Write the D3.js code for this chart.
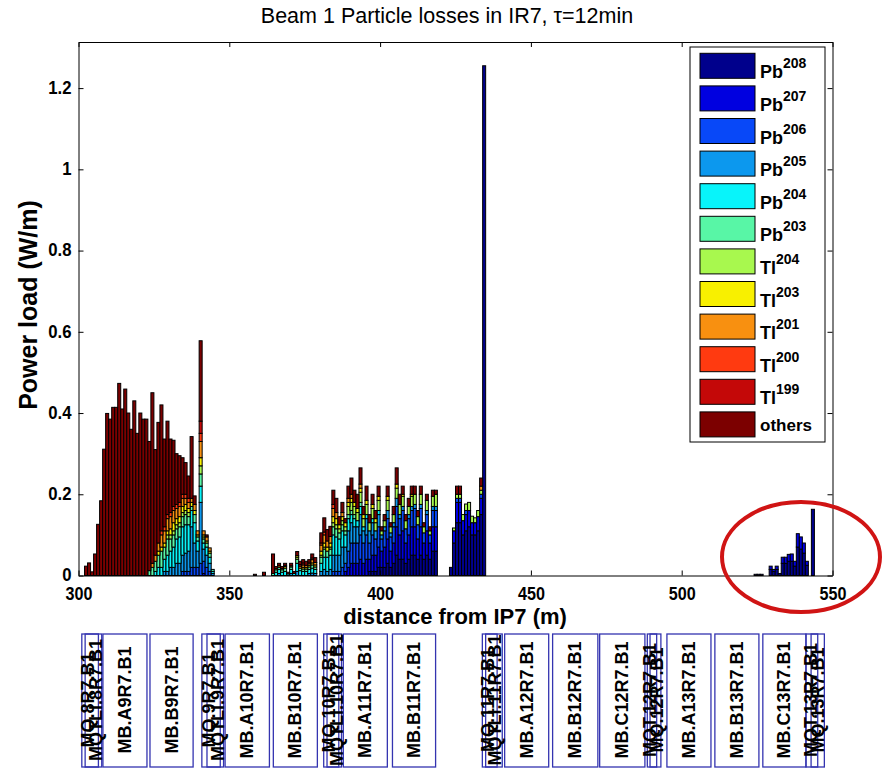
<!DOCTYPE html>
<html>
<head>
<meta charset="utf-8">
<script src="https://cdn.jsdelivr.net/npm/d3@7/dist/d3.min.js"></script>
<style>
  body { margin: 0; background: #fff; }
  svg text { font-family: "Liberation Sans", Arial, Helvetica, sans-serif; }
</style>
</head>
<body>
<svg id="chart" width="884" height="771"></svg>
<script>
// ---- species (stack order, bottom to top) ----
const species = ["Pb208","Pb207","Pb206","Pb205","Pb204","Pb203","Tl204","Tl203","Tl201","Tl200","Tl199","others"];
const speciesBase = ["Pb","Pb","Pb","Pb","Pb","Pb","Tl","Tl","Tl","Tl","Tl","others"];
const speciesMass = ["208","207","206","205","204","203","204","203","201","200","199",""];
const speciesColor = ["#00008c","#0000e0","#0848f8","#0c98ee","#08f4fa","#58f6a6","#a8f84e","#f8f000","#f89010","#ff3a10","#c40808","#7c0000"];

// ---- power load per 1 m bin: [bin start (m), W/m] ----
const pb208 = [[396,.01],[397,.01],[398,.01],[399,.02],[400,.02],[401,.02],[402,.03],[403,.02],[404,.03],[405,.05],[406,.04],[407,.04],[408,.03],[409,.04],[410,.05],[411,.05],[412,.04],[413,.05],[414,.04],[415,.05],[416,.04],[417,.06],[418,.06],[423,.02],[424,.08],[425,.13],[426,.13],[427,.1],[428,.11],[429,.12],[430,.1],[431,.1],[432,.11],[433,.15],[434,1.255],[524,.003],[525,.003],[526,.003],[529,.015],[530,.01],[531,.015],[532,.005],[533,.03],[534,.03],[535,.035],[536,.035],[537,.023],[538,.07],[539,.065],[540,.055],[541,.025],[543,.163]];
const pb207 = [[341,.005],[388,.01],[389,.02],[390,.03],[391,.03],[392,.03],[393,.04],[394,.03],[395,.04],[396,.03],[397,.04],[398,.04],[399,.05],[400,.04],[401,.05],[402,.06],[403,.04],[404,.05],[405,.07],[406,.06],[407,.07],[408,.05],[409,.06],[410,.07],[411,.07],[412,.05],[413,.07],[414,.04],[415,.06],[416,.04],[417,.06],[418,.06],[424,.03],[425,.05],[426,.05],[427,.035],[428,.04],[429,.04],[430,.03],[431,.03],[432,.035],[433,.04],[529,.008],[530,.005],[531,.008],[533,.015],[534,.015],[535,.017],[536,.018],[537,.012],[538,.033],[539,.03],[540,.025],[541,.01]];
const pb206 = [[334,.01],[335,.01],[336,.01],[337,.02],[338,.02],[339,.02],[340,.03],[341,.03],[342,.02],[343,.01],[384,.01],[385,.01],[386,.01],[387,.02],[388,.02],[389,.04],[390,.05],[391,.05],[392,.05],[393,.06],[394,.05],[395,.06],[396,.04],[397,.05],[398,.04],[399,.05],[400,.03],[401,.04],[402,.05],[403,.035],[404,.04],[405,.05],[406,.04],[407,.05],[408,.035],[409,.04],[410,.04],[411,.045],[412,.035],[413,.045],[414,.025],[415,.04],[416,.02],[417,.04],[418,.04],[425,.01],[426,.01],[428,.01],[433,.01]];
const pb205 = [[328,.01],[329,.01],[330,.02],[331,.02],[332,.03],[333,.03],[334,.04],[335,.045],[336,.05],[337,.1],[338,.06],[339,.04],[340,.15],[341,.03],[342,.03],[343,.02],[344,.005],[366,.005],[370,.005],[372,.01],[376,.005],[377,.006],[378,.005],[380,.01],[381,.015],[382,.01],[383,.015],[384,.04],[385,.04],[386,.04],[387,.05],[388,.04],[389,.05],[390,.05],[391,.04],[392,.04],[393,.05],[394,.03],[395,.04],[396,.03],[397,.03],[398,.02],[399,.03],[400,.01],[401,.01],[402,.02],[403,.01],[404,.01],[405,.02],[406,.01],[407,.01],[409,.01],[410,.01],[411,.01],[413,.01],[415,.01],[417,.01],[418,.01]];
const pb204 = [[325,.01],[326,.02],[327,.02],[328,.03],[329,.04],[330,.04],[331,.05],[332,.06],[333,.065],[334,.07],[335,.07],[336,.065],[337,.04],[338,.05],[339,.025],[340,.04],[341,.015],[342,.02],[343,.015],[344,.005],[365,.008],[366,.01],[367,.008],[368,.01],[369,.004],[370,.01],[371,.005],[372,.02],[373,.012],[374,.01],[375,.01],[376,.01],[377,.012],[378,.01],[380,.02],[381,.03],[382,.035],[383,.035],[384,.05],[385,.045],[386,.04],[387,.04],[388,.03],[389,.03],[390,.02],[391,.02],[392,.015],[393,.02],[394,.01],[395,.01],[397,.01],[399,.01]];
const pb203 = [[323,.012],[324,.02],[325,.025],[326,.03],[327,.04],[328,.03],[329,.04],[330,.03],[331,.03],[332,.025],[333,.025],[334,.025],[335,.025],[336,.02],[337,.01],[338,.02],[339,.01],[340,.03],[341,.01],[342,.01],[343,.01],[344,.005],[364,.005],[365,.006],[366,.005],[367,.006],[368,.008],[370,.006],[372,.01],[373,.006],[374,.006],[375,.006],[376,.006],[377,.008],[378,.006],[380,.015],[381,.02],[382,.015],[383,.015],[384,.02],[385,.02],[386,.015],[387,.015],[388,.01],[389,.01],[390,.01],[391,.01],[393,.01]];
const tl204 = [[329,.01],[330,.01],[331,.01],[332,.01],[333,.01],[334,.01],[335,.01],[336,.01],[340,.02],[341,.005],[367,.003],[372,.005],[380,.005],[381,.005],[383,.005],[384,.01],[385,.01],[386,.01],[387,.01],[388,.01],[389,.02],[390,.02],[391,.02],[392,.02],[393,.025],[394,.02],[395,.025],[396,.02],[397,.025],[398,.02],[399,.025],[400,.01],[401,.015],[402,.025],[403,.015],[404,.02],[405,.025],[406,.025],[407,.025],[408,.02],[409,.02],[410,.025],[411,.025],[412,.02],[413,.025],[414,.015],[415,.025],[416,.01],[417,.025],[418,.03],[424,.007],[425,.01],[426,.01],[427,.015],[428,.016],[429,.02],[430,.016],[431,.012],[432,.015],[433,.01]];
const tl203 = [[326,.01],[327,.01],[328,.01],[329,.01],[330,.015],[331,.02],[332,.015],[333,.015],[334,.015],[335,.015],[336,.01],[337,.01],[338,.01],[339,.005],[340,.02],[341,.005],[342,.005],[343,.005],[365,.003],[368,.004],[370,.003],[372,.004],[374,.004],[375,.004],[376,.004],[377,.005],[378,.005],[380,.01],[381,.01],[382,.01],[383,.01],[384,.015],[385,.015],[386,.01],[387,.01],[388,.01],[389,.01],[390,.01],[391,.01],[392,.01],[393,.01],[394,.01],[395,.01],[397,.01],[398,.01],[399,.01],[402,.01],[405,.01],[407,.005],[410,.005]];
const tl201 = [[324,.01],[325,.015],[326,.02],[327,.03],[328,.03],[329,.03],[330,.03],[331,.03],[332,.025],[333,.025],[334,.02],[335,.015],[336,.015],[337,.01],[338,.015],[339,.01],[340,.04],[341,.01],[342,.01],[343,.008],[366,.004],[368,.003],[373,.005],[374,.006],[375,.005],[376,.004],[377,.008],[378,.006],[380,.015],[381,.02],[382,.015],[383,.016],[384,.02],[385,.015],[387,.01],[389,.01],[390,.01],[393,.01],[433,.01]];
const tl200 = [[327,.01],[328,.01],[329,.01],[330,.01],[331,.01],[332,.01],[333,.01],[334,.01],[335,.01],[336,.01],[340,.02],[377,.004],[380,.005],[381,.007],[384,.01]];
const tl199 = [[340,.03],[373,.004],[374,.005],[376,.004]];
const others = [[302,.023],[303,.031],[304,.009],[305,.053],[306,.126],[307,.184],[308,.311],[309,.399],[310,.385],[311,.414],[312,.414],[313,.473],[314,.41],[315,.459],[316,.40],[317,.36],[318,.43],[319,.35],[320,.40],[321,.385],[322,.385],[323,.318],[324,.42],[325,.26],[326,.297],[327,.31],[328,.216],[329,.23],[330,.181],[331,.163],[332,.125],[333,.115],[334,.09],[335,.078],[336,.055],[337,.152],[338,.021],[340,.198],[342,.005],[358,.003],[361,.008],[364,.048],[365,.005],[366,.006],[367,.005],[368,.005],[369,.004],[370,.006],[371,.005],[372,.01],[373,.008],[374,.008],[375,.01],[376,.006],[377,.01],[378,.012],[380,.025],[381,.035],[382,.028],[383,.025],[384,.035],[385,.035],[386,.02],[387,.025],[388,.01],[389,.03],[390,.04],[391,.03],[392,.035],[393,.04],[394,.02],[395,.035],[396,.02],[397,.025],[398,.02],[399,.025],[400,.01],[401,.015],[402,.025],[403,.01],[404,.02],[405,.04],[406,.025],[407,.02],[408,.015],[409,.02],[410,.02],[411,.02],[412,.015],[413,.02],[414,.01],[415,.015],[416,.01],[417,.015],[418,.01],[425,.02],[426,.02],[433,.02]];
const speciesSeries = [pb208, pb207, pb206, pb205, pb204, pb203, tl204, tl203, tl201, tl200, tl199, others];
const binWidth = 1; // m

// ---- axes ----
const xTicks = [300, 350, 400, 450, 500, 550];
const yTicks = [0, 0.2, 0.4, 0.6, 0.8, 1, 1.2];
const xDomain = [300, 550];
const yDomain = [0, 1.3135];

// ---- beam-line elements below the plot: name, start (m), end (m) ----
const elementNames = ["MQ.8R7.B1","MQTLI.8R7.B1","MB.A9R7.B1","MB.B9R7.B1","MQ.9R7.B1","MQTLI.9R7.B1","MB.A10R7.B1","MB.B10R7.B1","MQ.10R7.B1","MQTLI.10R7.B1","MB.A11R7.B1","MB.B11R7.B1","MQ.11R7.B1","MQTLI.11R7.B1","MB.A12R7.B1","MB.B12R7.B1","MB.C12R7.B1","MQT.12R7.B1","MQ.12R7.B1","MB.A13R7.B1","MB.B13R7.B1","MB.C13R7.B1","MQT.13R7.B1","MQ.13R7.B1"];
const elementStart = [301.1,302.2,308.1,323.7,340.9,342.6,348.6,364.6,381.3,382.4,387.8,404.1,433.9,435.0,441.3,457.2,472.8,488.6,489.5,495.1,511.0,526.9,541.2,542.9];
const elementEnd   = [307.7,306.6,322.7,338.0,348.1,347.0,363.3,379.2,387.2,386.3,402.4,418.4,440.5,438.8,455.9,472.2,487.8,493.1,491.7,509.7,525.6,541.2,547.3,545.1];
const elementPair  = [0,1,-1,-1,0,1,-1,-1,0,1,-1,-1,0,1,-1,-1,-1,0,1,-1,-1,-1,0,1];

const titleText = "Beam 1 Particle losses in IR7, \u03C4=12min";
const xLabel = "distance from IP7 (m)";
const yLabel = "Power load (W/m)";

// ---------------------------------------------------------------
const svg = d3.select("#chart");
const x = d3.scaleLinear().domain(xDomain).range([78.5, 832.5]);
const y = d3.scaleLinear().domain(yDomain).range([575.5, 42]);

// stacked table: one row per bin
const binSet = new Set();
speciesSeries.forEach(s => s.forEach(d => binSet.add(d[0])));
const bins = Array.from(binSet).sort((a, b) => a - b);
const table = bins.map(b => {
  const row = { s: b };
  species.forEach((k, i) => {
    const hit = speciesSeries[i].find(d => d[0] === b);
    row[k] = hit ? hit[1] : 0;
  });
  return row;
});
const stacked = d3.stack().keys(species)(table);

// bars
const barG = svg.append("g");
stacked.forEach((layer, i) => {
  barG.append("g")
    .attr("fill", speciesColor[i])
    .selectAll("rect")
    .data(layer.filter(d => d[1] - d[0] > 0))
    .join("rect")
    .attr("x", d => x(d.data.s))
    .attr("width", d => x(d.data.s + binWidth) - x(d.data.s))
    .attr("y", d => y(d[1]))
    .attr("height", d => y(d[0]) - y(d[1]))
    .attr("stroke", "#000")
    .attr("stroke-width", 1);
});

// axes (ticks point inward, box on all four sides)
const fontStack = '"Liberation Sans", Arial, sans-serif';
const axB = svg.append("g").attr("transform", `translate(0,${y(0)})`)
  .call(d3.axisBottom(x).tickValues(xTicks).tickSize(-5).tickSizeOuter(0).tickPadding(11).tickFormat(d3.format("d")));
const axL = svg.append("g").attr("transform", `translate(${x(300)},0)`)
  .call(d3.axisLeft(y).tickValues(yTicks).tickSize(-5).tickSizeOuter(0).tickPadding(8).tickFormat(d => d === 0 ? "0" : d3.format("~g")(d)));
const axT = svg.append("g").attr("transform", `translate(0,${y.range()[1]})`)
  .call(d3.axisTop(x).tickValues(xTicks).tickSize(-5).tickSizeOuter(0).tickFormat(""));
const axR = svg.append("g").attr("transform", `translate(${x(550)},0)`)
  .call(d3.axisRight(y).tickValues(yTicks).tickSize(-5).tickSizeOuter(0).tickFormat(""));
[axB, axL, axT, axR].forEach(g => {
  g.selectAll("path.domain").attr("stroke", "#000").attr("stroke-width", 1);
  g.selectAll(".tick line").attr("stroke", "#000");
  g.selectAll(".tick text")
    .attr("font-family", fontStack).attr("font-weight", "bold")
    .attr("font-size", 19).attr("fill", "#000");
});
axB.selectAll(".tick text").attr("transform", "scale(0.85,1)");
axL.selectAll(".tick text").attr("transform", "scale(0.88,1)").attr("dy", "0.28em");

// titles
svg.append("text").attr("x", 447).attr("y", 23)
  .attr("text-anchor", "middle").attr("font-size", 21.5).attr("fill", "#000")
  .text(titleText);
svg.append("text").attr("x", 455).attr("y", 624)
  .attr("text-anchor", "middle").attr("font-size", 22).attr("font-weight", "bold")
  .text(xLabel);
svg.append("text").attr("transform", "translate(37,305) rotate(-90)")
  .attr("text-anchor", "middle").attr("font-size", 25).attr("font-weight", "bold")
  .text(yLabel);

// legend
const lg = svg.append("g");
lg.append("rect").attr("x", 690).attr("y", 47).attr("width", 135).attr("height", 395)
  .attr("fill", "#fff").attr("stroke", "#000").attr("stroke-width", 1);
species.forEach((k, i) => {
  const top = 53.3 + i * 32.6;
  lg.append("rect").attr("x", 700).attr("y", top).attr("width", 55).attr("height", 25)
    .attr("fill", speciesColor[i]).attr("stroke", "#000").attr("stroke-width", 1);
  const t = lg.append("text").attr("x", 760)
    .attr("font-weight", "bold").attr("font-size", 18).attr("fill", "#000");
  if (speciesMass[i]) {
    t.attr("y", top + 25);
    t.append("tspan").text(speciesBase[i]);
    t.append("tspan").attr("dy", -10).attr("font-size", 14).text(speciesMass[i]);
  } else {
    t.attr("y", top + 19).attr("font-size", 17).text(speciesBase[i]);
  }
});

// beam-line element boxes
const eg = svg.append("g");
elementNames.forEach((name, i) => {
  const x0 = x(elementStart[i]), x1 = x(elementEnd[i]);
  eg.append("rect").attr("x", x0).attr("y", 634).attr("width", x1 - x0).attr("height", 133)
    .attr("fill", "none").attr("stroke", "#3434b0").attr("stroke-width", 1.3);
});
elementNames.forEach((name, i) => {
  const x0 = x(elementStart[i]), x1 = x(elementEnd[i]);
  const cx = (x0 + x1) / 2 + (elementPair[i] === 0 ? -4 : elementPair[i] === 1 ? 4 : 0);
  eg.append("text")
    .attr("transform", `translate(${cx},700) rotate(-90)`)
    .attr("text-anchor", "middle").attr("dominant-baseline", "central")
    .attr("font-size", 18).attr("font-weight", "bold").attr("fill", "#000")
    .text(name);
});

// highlight ring around the cold-section losses
svg.append("ellipse").attr("cx", 801).attr("cy", 557).attr("rx", 79).attr("ry", 55)
  .attr("fill", "none").attr("stroke", "#d01414").attr("stroke-width", 4);
</script>
</body>
</html>
